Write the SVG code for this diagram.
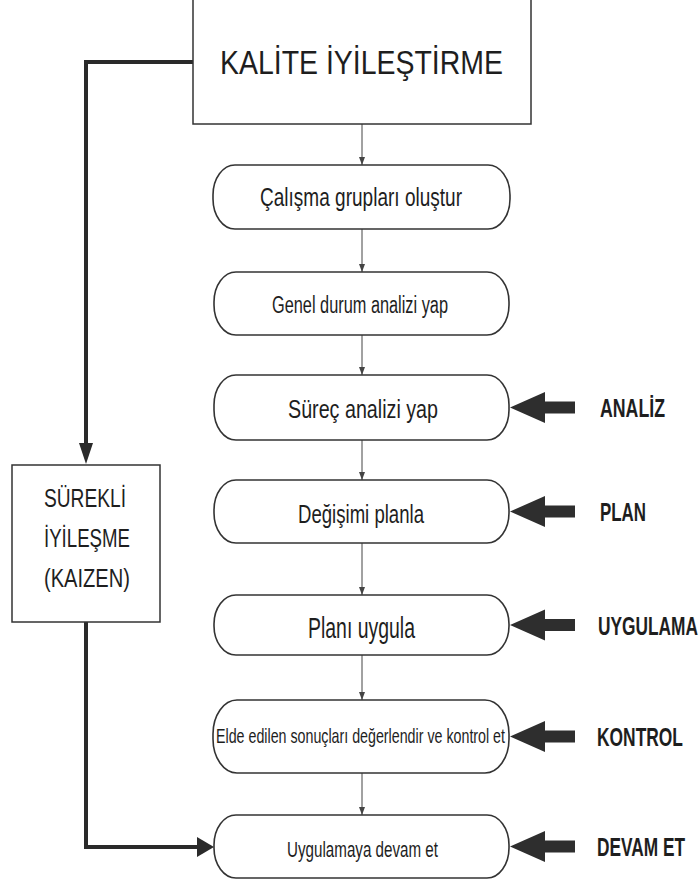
<svg xmlns="http://www.w3.org/2000/svg" width="700" height="885" viewBox="0 0 700 885">
  <style>
    .box { fill: #fff; stroke: #333; stroke-width: 1.5; }
    .step { fill: #fff; stroke: #333; stroke-width: 1.6; }
    .t { font-family: "Liberation Sans", Arial, sans-serif; fill: #1e1e1e; }
    .lbl { font-family: "Liberation Sans", Arial, sans-serif; font-weight: bold; fill: #1e1e1e; }
    .flow { fill: none; stroke: #444; stroke-width: 1; }
    .thick { fill: none; stroke: #2a2a2a; stroke-width: 4; }
    .head { fill: #2a2a2a; }
    .big { fill: #2e2e2e; }
  </style>
  <defs>
    <marker id="small" viewBox="0 0 8 6" refX="8" refY="3" markerWidth="8" markerHeight="6" markerUnits="userSpaceOnUse" orient="auto">
      <path d="M0,0 L8,3 L0,6 Z" fill="#444"/>
    </marker>
    <path id="fat" d="M0,0 L35,-15.5 L35,-6 L65,-6 L65,6 L35,6 L35,15.5 Z"/>
  </defs>
  <rect width="700" height="885" fill="#fff"/>

  <!-- connectors -->
  <g id="connectors">
    <line class="flow" x1="362" y1="124" x2="362" y2="165" marker-end="url(#small)"/>
    <line class="flow" x1="362" y1="229" x2="362" y2="272" marker-end="url(#small)"/>
    <line class="flow" x1="362" y1="335" x2="362" y2="375" marker-end="url(#small)"/>
    <line class="flow" x1="362" y1="440" x2="362" y2="480" marker-end="url(#small)"/>
    <line class="flow" x1="362" y1="543" x2="362" y2="595" marker-end="url(#small)"/>
    <line class="flow" x1="362" y1="655" x2="362" y2="700" marker-end="url(#small)"/>
    <line class="flow" x1="362" y1="773" x2="362" y2="815" marker-end="url(#small)"/>

    <!-- feedback loop through continuous improvement -->
    <polyline class="thick" points="193,62 86,62 86,445"/>
    <path class="head" d="M79,443 L93,443 L86,464 Z"/>
    <polyline class="thick" points="86,622 86,847 200,847"/>
    <path class="head" d="M197,837 L197,857 L214,847 Z"/>

    <!-- phase arrows -->
    <use class="big" href="#fat" x="510" y="407.5"/>
    <use class="big" href="#fat" x="510" y="511.5"/>
    <use class="big" href="#fat" x="510" y="625"/>
    <use class="big" href="#fat" x="510" y="736.5"/>
    <use class="big" href="#fat" x="510" y="846.5"/>
  </g>

  <g id="kalite">
    <rect class="box" x="193" y="-2" width="338" height="126"/>
    <text class="t" x="220" y="74" font-size="34" textLength="283" lengthAdjust="spacingAndGlyphs">KALİTE İYİLEŞTİRME</text>
  </g>

  <g id="kaizen">
    <rect class="box" x="12" y="465" width="148" height="157"/>
    <text class="t" x="44" y="507" font-size="25" textLength="82" lengthAdjust="spacingAndGlyphs">SÜREKLİ</text>
    <text class="t" x="44" y="547" font-size="25" textLength="86" lengthAdjust="spacingAndGlyphs">İYİLEŞME</text>
    <text class="t" x="44" y="587" font-size="25" textLength="86" lengthAdjust="spacingAndGlyphs">(KAIZEN)</text>
  </g>

  <g id="step1">
    <rect class="step" x="213" y="165" width="297" height="64" rx="22" ry="30"/>
    <text class="t" x="260" y="206" font-size="26" textLength="202" lengthAdjust="spacingAndGlyphs">Çalışma grupları oluştur</text>
  </g>

  <g id="step2">
    <rect class="step" x="214" y="272" width="295" height="63" rx="22" ry="30"/>
    <text class="t" x="272" y="313" font-size="23" textLength="176" lengthAdjust="spacingAndGlyphs">Genel durum analizi yap</text>
  </g>

  <g id="step3">
    <rect class="step" x="214" y="375" width="295" height="65" rx="22" ry="30"/>
    <text class="t" x="288" y="418" font-size="26" textLength="150" lengthAdjust="spacingAndGlyphs">Süreç analizi yap</text>
  </g>

  <g id="step4">
    <rect class="step" x="214" y="480" width="295" height="63" rx="22" ry="30"/>
    <text class="t" x="298" y="523" font-size="26" textLength="126" lengthAdjust="spacingAndGlyphs">Değişimi planla</text>
  </g>

  <g id="step5">
    <rect class="step" x="214" y="595" width="295" height="60" rx="22" ry="29"/>
    <text class="t" x="308" y="638" font-size="29" textLength="107" lengthAdjust="spacingAndGlyphs">Planı uygula</text>
  </g>

  <g id="step6">
    <rect class="step" x="213" y="700" width="296" height="73" rx="24" ry="34"/>
    <text class="t" x="216" y="743" font-size="21" textLength="289" lengthAdjust="spacingAndGlyphs">Elde edilen sonuçları değerlendir ve kontrol et</text>
  </g>

  <g id="step7">
    <rect class="step" x="214" y="815" width="295" height="63" rx="22" ry="30"/>
    <text class="t" x="287" y="857" font-size="22" textLength="151" lengthAdjust="spacingAndGlyphs">Uygulamaya devam et</text>
  </g>

  <g id="phases">
    <text class="lbl" x="600" y="417" font-size="25" textLength="65" lengthAdjust="spacingAndGlyphs">ANALİZ</text>
    <text class="lbl" x="600" y="521" font-size="25" textLength="46" lengthAdjust="spacingAndGlyphs">PLAN</text>
    <text class="lbl" x="598" y="635" font-size="25" textLength="100" lengthAdjust="spacingAndGlyphs">UYGULAMA</text>
    <text class="lbl" x="597" y="746" font-size="25" textLength="86" lengthAdjust="spacingAndGlyphs">KONTROL</text>
    <text class="lbl" x="597" y="856" font-size="25" textLength="88" lengthAdjust="spacingAndGlyphs">DEVAM ET</text>
  </g>
</svg>
